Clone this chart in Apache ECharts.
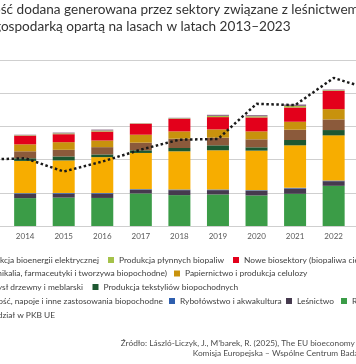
<!DOCTYPE html>
<html>
<head>
<meta charset="utf-8">
<script src="https://cdn.jsdelivr.net/npm/echarts@6/dist/echarts.min.js"></script>
<style>
html,body{margin:0;padding:0;background:#fff;overflow:hidden;width:356px;height:364px;}
#chart{position:absolute;left:-80px;top:0;width:500px;height:364px;}
</style>
</head>
<body>
<div id="chart"></div>
<script>
// ---- data ----
const years = ['2013','2014','2015','2016','2017','2018','2019','2020','2021','2022','2023'];
const rolnictwo     = [165, 168, 171, 169, 196, 186, 190, 184, 194, 242, 225];
const lesnictwo     = [25, 26, 24, 26, 22, 30, 26, 28, 32, 28, 27];
const rybolowstwo   = [4, 4, 4, 4, 4, 4, 4, 4, 4, 4, 4];
const zywnosc       = [190, 194, 196, 216, 218, 230, 236, 238, 256, 272, 285];
const tekstylia     = [16, 16, 24, 16, 16, 20, 30, 20, 32, 32, 30];
const drzewny       = [40, 42, 40, 44, 46, 56, 46, 48, 62, 64, 58];
const papiernictwo  = [40, 42, 46, 40, 48, 44, 50, 48, 48, 62, 56];
const noweBio       = [50, 52, 48, 54, 66, 76, 74, 84, 86, 110, 100];
const biopaliwa     = [3, 3, 5, 6, 2, 3, 7, 7, 9, 4, 5];
const bioenergia    = [3, 3, 5, 6, 1, 3, 7, 7, 9, 4, 5];
const udzialPKB     = [4.00, 4.02, 3.82, 3.97, 4.15, 4.30, 4.31, 4.84, 4.82, 5.23, 5.05];

const names = {
  rol: 'Rolnictwo',
  les: 'Leśnictwo',
  ryb: 'Rybołówstwo i akwakultura',
  zyw: 'Żywność, napoje i inne zastosowania biopochodne',
  tek: 'Produkcja tekstyliów biopochodnych',
  drz: 'Przemysł drzewny i meblarski',
  pap: 'Papiernictwo i produkcja celulozy',
  now: 'Nowe biosektory (biopaliwa ciekłe, chemikalia, farmaceutyki i tworzywa biopochodne)',
  bpl: 'Produkcja płynnych biopaliw',
  ben: 'Produkcja bioenergii elektrycznej',
  pkb: 'Udział w PKB UE'
};
const titleLine1 = 'Wartość dodana generowana przez sektory związane z leśnictwem i';
const titleLine2 = 'biogospodarką opartą na lasach w latach 2013–2023';
const source1 = 'Źródło: László-Liczyk, J., M’barek, R. (2025), The EU bioeconomy';
const source2 = 'Komisja Europejska – Wspólne Centrum Badawcze';

// ---- layout helpers ----
const L = 80; // canvas shifted left (the reference is a crop)
const FONT = 'Lato, "Open Sans", sans-serif';
const mctx = document.createElement('canvas').getContext('2d');
function tw(t, size){ mctx.font = size + 'px Lato'; return mctx.measureText(t).width; }
function vx(x){ return x + L; }

const colors = {
  rol:'#3b9c47', les:'#463a4e', ryb:'#2f5fae', zyw:'#f7ad00', tek:'#1d5731',
  drz:'#8b5a3b', pap:'#c8920d', now:'#e3001b', bpl:'#a5c24a', ben:'#8e6c8a'
};

const LFS = 8.4;
const TFS = 13.6;
const SFS = 8.3;
function legendItem(key, iconLeftVp, cy, extra){
  const o = {
    data:[names[key]], left: vx(iconLeftVp), top: cy - 6, orient:'horizontal',
    itemWidth:6, itemHeight:6, icon:'rect', itemGap:0, padding:0, selectedMode:false,
    textStyle:{fontSize:LFS, fontFamily:FONT, color:'#404040', lineHeight:12}
  };
  return Object.assign(o, extra || {});
}
function legendEnd(key, textEndVp, cy, iw, extra){
  iw = iw || 6;
  const w = tw(names[key], LFS);
  return legendItem(key, textEndVp - w - 5 - iw, cy, extra);
}

const legends = [
  legendEnd('ben', 99, 260),
  legendItem('bpl', 108, 260),
  legendItem('now', 233, 260, {formatter: function(){ return 'Nowe biosektory (biopaliwa ciekłe,'; }}),
  legendItem('pap', 174, 273.5),
  legendEnd('drz', 83, 287),
  legendItem('tek', 92.5, 287),
  legendEnd('zyw', 163, 301),
  legendItem('ryb', 169, 301),
  legendItem('les', 286, 301),
  legendItem('rol', 341, 301),
  legendEnd('pkb', 55, 315, 18, {itemWidth:18, itemHeight:6})
];

function barSeries(key, data){
  return {
    name: names[key], type:'bar', stack:'va', data:data, barWidth:22,
    itemStyle:{color:colors[key]}, emphasis:{disabled:true}
  };
}

const chart = echarts.init(document.getElementById('chart'), null, {renderer:'canvas'});
chart.setOption({
  animation:false,
  backgroundColor:'#ffffff',
  textStyle:{fontFamily:FONT},
  grid:{left:47.3, top:60, width:430.4, height:166},
  legend: legends,
  xAxis:{
    type:'category', data:years,
    axisTick:{show:false},
    axisLine:{show:true, lineStyle:{color:'#cfcfcf', width:1}},
    axisLabel:{fontSize:8, color:'#595959', margin:6, fontFamily:FONT}
  },
  yAxis:[
    {type:'value', min:0, max:1000, interval:200,
     axisLine:{show:false}, axisTick:{show:false},
     axisLabel:{fontSize:8, color:'#595959'},
     splitLine:{show:true, lineStyle:{color:'#cfcfcf', width:1, type:'solid'}}},
    {type:'value', min:3, max:5.5, interval:0.5, position:'right',
     axisLine:{show:false}, axisTick:{show:false},
     axisLabel:{fontSize:8, color:'#595959', formatter: v => v.toFixed(1).replace('.', ',') + '%'},
     splitLine:{show:false}}
  ],
  series:[
    barSeries('rol', rolnictwo),
    barSeries('les', lesnictwo),
    barSeries('ryb', rybolowstwo),
    barSeries('zyw', zywnosc),
    barSeries('tek', tekstylia),
    barSeries('drz', drzewny),
    barSeries('pap', papiernictwo),
    barSeries('now', noweBio),
    barSeries('bpl', biopaliwa),
    barSeries('ben', bioenergia),
    {
      name: names.pkb, type:'line', yAxisIndex:1, data:udzialPKB, z:10,
      symbol:'none', showSymbol:false, smooth:false,
      lineStyle:{color:'#1a1a1a', width:2.5, type:[2.5, 2.5]},
      itemStyle:{color:'#1a1a1a'}, emphasis:{disabled:true}
    }
  ],
  graphic:[
    {type:'text', x: vx(0.7 - tw('Warto', TFS)), y: 9.5,
     style:{text:titleLine1, font:TFS + 'px ' + FONT, fill:'#333333', verticalAlign:'middle', align:'left'}},
    {type:'text', x: vx(1 - tw('biog', TFS)), y: 26.5,
     style:{text:titleLine2, font:TFS + 'px ' + FONT, fill:'#333333', verticalAlign:'middle', align:'left'}},
    {type:'text', x: vx(167), y: 273.5,
     style:{text:'chemikalia, farmaceutyki i tworzywa biopochodne)', font:LFS + 'px ' + FONT, fill:'#404040', verticalAlign:'middle', align:'right'}},
    {type:'text', x: vx(120.7), y: 343,
     style:{text:source1, font:SFS + 'px ' + FONT, fill:'#4d4d4d', verticalAlign:'middle', align:'left'}},
    {type:'text', x: vx(192.7), y: 353.5,
     style:{text:source2, font:SFS + 'px ' + FONT, fill:'#4d4d4d', verticalAlign:'middle', align:'left'}}
  ]
});
</script>
</body>
</html>
